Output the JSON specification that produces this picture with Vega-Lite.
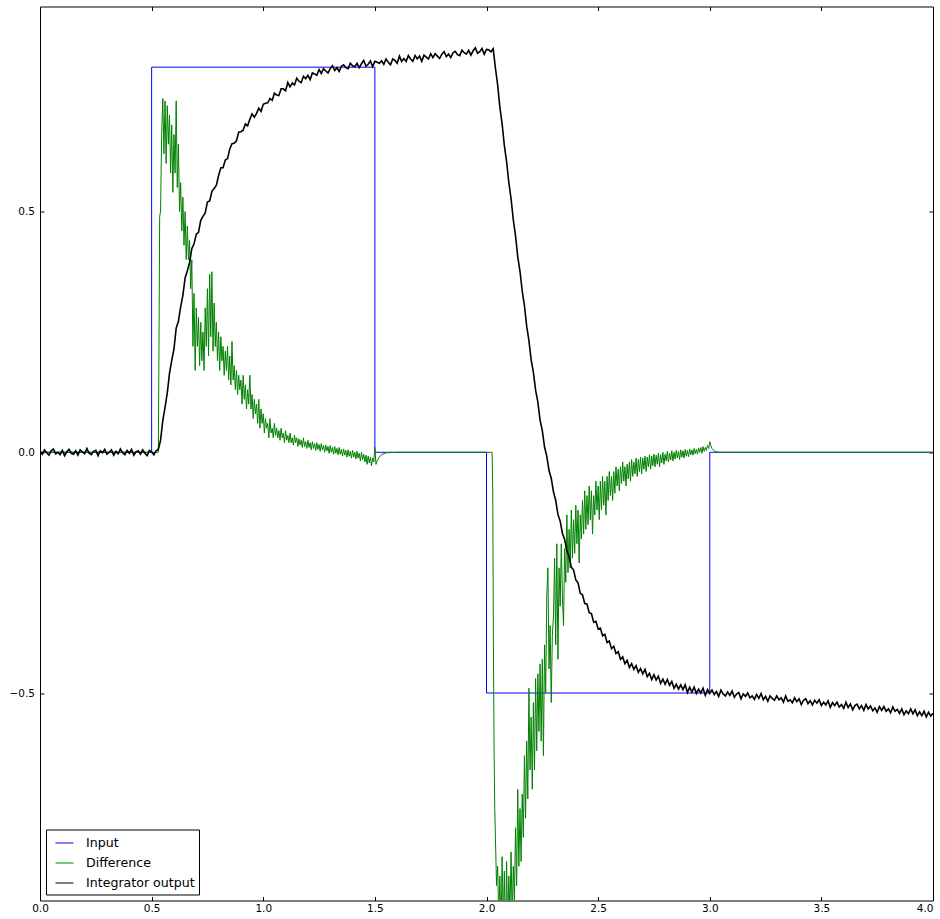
{
  "$schema": "https://vega.github.io/schema/vega-lite/v6.json",
  "width": 893,
  "height": 894,
  "autosize": {"type": "none"},
  "padding": {"left": 40, "top": 6.5, "right": 7, "bottom": 18.5},
  "background": "white",
  "config": {
    "font": "DejaVu Sans",
    "view": {"stroke": "#000", "strokeWidth": 1},
    "axis": {"domain": false, "grid": false, "labelFont": "DejaVu Sans", "labelFontSize": 10.5, "labelColor": "#000", "tickColor": "#000", "tickSize": -4, "tickWidth": 1, "title": null},
    "legend": {"orient": "bottom-left", "offset": 6, "title": null, "strokeColor": "#000", "fillColor": "#fff", "padding": 4, "cornerRadius": 0, "symbolType": "stroke", "symbolSize": 324, "symbolStrokeWidth": 1, "labelFont": "DejaVu Sans", "labelFontSize": 12.6, "labelColor": "#000", "rowPadding": 3, "labelOffset": 12, "symbolOffset": 5}
  },
  "datasets": {
    "input": [
      {"t": 0, "v": 0}, {"t": 0.5, "v": 0}, {"t": 0.5, "v": 0.8}, {"t": 1.5, "v": 0.8}, {"t": 1.5, "v": 0},
      {"t": 2, "v": 0}, {"t": 2, "v": -0.5}, {"t": 3, "v": -0.5}, {"t": 3, "v": 0}, {"t": 4, "v": 0}
    ],
    "diff": [
      {"t":0,"v":0},{"t":0.53,"v":0},{"t":0.533,"v":0.22},{"t":0.536,"v":0.49},{"t":0.54,"v":0.5},{"t":0.545,"v":0.66},{"t":0.55,"v":0.735},{"t":0.555,"v":0.62},{"t":0.56,"v":0.73},{"t":0.565,"v":0.6},{"t":0.57,"v":0.72},{"t":0.575,"v":0.64},{"t":0.58,"v":0.7},{"t":0.585,"v":0.58},{"t":0.59,"v":0.68},{"t":0.595,"v":0.54},{"t":0.6,"v":0.66},{"t":0.605,"v":0.58},{"t":0.61,"v":0.73},{"t":0.615,"v":0.55},{"t":0.62,"v":0.64},{"t":0.625,"v":0.5},{"t":0.63,"v":0.56},{"t":0.635,"v":0.46},{"t":0.64,"v":0.53},{"t":0.645,"v":0.43},{"t":0.65,"v":0.5},{"t":0.655,"v":0.4},{"t":0.66,"v":0.47},{"t":0.665,"v":0.4},{"t":0.67,"v":0.44},{"t":0.675,"v":0.34},{"t":0.68,"v":0.4},{"t":0.685,"v":0.22},{"t":0.69,"v":0.33},{"t":0.695,"v":0.17},{"t":0.7,"v":0.3},{"t":0.705,"v":0.22},{"t":0.71,"v":0.28},{"t":0.715,"v":0.18},{"t":0.72,"v":0.27},{"t":0.725,"v":0.19},{"t":0.73,"v":0.25},{"t":0.735,"v":0.17},{"t":0.74,"v":0.3},{"t":0.745,"v":0.22},{"t":0.75,"v":0.34},{"t":0.755,"v":0.2},{"t":0.76,"v":0.37},{"t":0.765,"v":0.24},{"t":0.77,"v":0.375},{"t":0.775,"v":0.21},{"t":0.78,"v":0.31},{"t":0.785,"v":0.22},{"t":0.79,"v":0.27},{"t":0.795,"v":0.19},{"t":0.8,"v":0.25},{"t":0.805,"v":0.17},{"t":0.81,"v":0.24},{"t":0.815,"v":0.19},{"t":0.82,"v":0.22},{"t":0.825,"v":0.16},{"t":0.83,"v":0.21},{"t":0.835,"v":0.17},{"t":0.84,"v":0.22},{"t":0.845,"v":0.15},{"t":0.85,"v":0.2},{"t":0.855,"v":0.14},{"t":0.86,"v":0.23},{"t":0.865,"v":0.15},{"t":0.87,"v":0.18},{"t":0.875,"v":0.13},{"t":0.88,"v":0.17},{"t":0.885,"v":0.12},{"t":0.89,"v":0.16},{"t":0.895,"v":0.13},{"t":0.9,"v":0.15},{"t":0.905,"v":0.1},{"t":0.91,"v":0.16},{"t":0.915,"v":0.11},{"t":0.92,"v":0.14},{"t":0.925,"v":0.09},{"t":0.93,"v":0.13},{"t":0.935,"v":0.1},{"t":0.94,"v":0.16},{"t":0.945,"v":0.09},{"t":0.95,"v":0.12},{"t":0.955,"v":0.07},{"t":0.96,"v":0.11},{"t":0.965,"v":0.08},{"t":0.97,"v":0.1},{"t":0.975,"v":0.06},{"t":0.98,"v":0.11},{"t":0.985,"v":0.05},{"t":0.99,"v":0.09},{"t":0.995,"v":0.06},{"t":1,"v":0.08},{"t":1.005,"v":0.04},{"t":1.01,"v":0.07},{"t":1.015,"v":0.05},{"t":1.02,"v":0.06},{"t":1.025,"v":0.03},{"t":1.03,"v":0.07},{"t":1.035,"v":0.04},{"t":1.04,"v":0.05},{"t":1.045,"v":0.03},{"t":1.05,"v":0.06},{"t":1.055,"v":0.035},{"t":1.06,"v":0.05},{"t":1.065,"v":0.03},{"t":1.07,"v":0.045},{"t":1.075,"v":0.025},{"t":1.08,"v":0.05},{"t":1.085,"v":0.03},{"t":1.09,"v":0.04},{"t":1.095,"v":0.02},{"t":1.1,"v":0.045},{"t":1.105,"v":0.025},{"t":1.11,"v":0.035},{"t":1.115,"v":0.02},{"t":1.12,"v":0.04},{"t":1.125,"v":0.02},{"t":1.13,"v":0.03},{"t":1.135,"v":0.015},{"t":1.14,"v":0.035},{"t":1.145,"v":0.02},{"t":1.15,"v":0.03},{"t":1.155,"v":0.012},{"t":1.16,"v":0.028},{"t":1.165,"v":0.015},{"t":1.17,"v":0.025},{"t":1.175,"v":0.01},{"t":1.18,"v":0.03},{"t":1.185,"v":0.012},{"t":1.19,"v":0.022},{"t":1.195,"v":0.008},{"t":1.2,"v":0.025},{"t":1.205,"v":0.01},{"t":1.21,"v":0.02},{"t":1.215,"v":0.005},{"t":1.22,"v":0.022},{"t":1.225,"v":0.008},{"t":1.23,"v":0.018},{"t":1.235,"v":0.004},{"t":1.24,"v":0.02},{"t":1.245,"v":0.006},{"t":1.25,"v":0.016},{"t":1.255,"v":0.002},{"t":1.26,"v":0.018},{"t":1.265,"v":0.005},{"t":1.27,"v":0.014},{"t":1.275,"v":0},{"t":1.28,"v":0.015},{"t":1.285,"v":0.003},{"t":1.29,"v":0.012},{"t":1.295,"v":-0.002},{"t":1.3,"v":0.014},{"t":1.305,"v":0},{"t":1.31,"v":0.01},{"t":1.315,"v":-0.004},{"t":1.32,"v":0.012},{"t":1.325,"v":-0.002},{"t":1.33,"v":0.008},{"t":1.335,"v":-0.005},{"t":1.34,"v":0.01},{"t":1.345,"v":-0.004},{"t":1.35,"v":0.006},{"t":1.355,"v":-0.008},{"t":1.36,"v":0.007},{"t":1.365,"v":-0.006},{"t":1.37,"v":0.004},{"t":1.375,"v":-0.01},{"t":1.38,"v":0.005},{"t":1.385,"v":-0.008},{"t":1.39,"v":0.002},{"t":1.395,"v":-0.012},{"t":1.4,"v":0.004},{"t":1.405,"v":-0.01},{"t":1.41,"v":0},{"t":1.415,"v":-0.014},{"t":1.42,"v":0.002},{"t":1.425,"v":-0.012},{"t":1.43,"v":-0.002},{"t":1.435,"v":-0.018},{"t":1.44,"v":0},{"t":1.445,"v":-0.015},{"t":1.45,"v":-0.004},{"t":1.455,"v":-0.02},{"t":1.46,"v":-0.006},{"t":1.465,"v":-0.025},{"t":1.47,"v":-0.008},{"t":1.475,"v":-0.022},{"t":1.48,"v":-0.01},{"t":1.485,"v":-0.028},{"t":1.49,"v":-0.012},{"t":1.495,"v":-0.02},{"t":1.5,"v":0.01},{"t":1.505,"v":-0.025},{"t":1.51,"v":-0.018},{"t":1.52,"v":-0.01},{"t":1.53,"v":-0.005},{"t":1.55,"v":-0.001},{"t":1.6,"v":0},{"t":2.025,"v":0},
      {"t":2.028,"v":-0.08},{"t":2.031,"v":-0.4},{"t":2.034,"v":-0.62},{"t":2.037,"v":-0.74},{"t":2.04,"v":-0.8},{"t":2.045,"v":-0.9},{"t":2.05,"v":-0.86},{"t":2.055,"v":-0.97},{"t":2.06,"v":-0.88},{"t":2.065,"v":-1},{"t":2.07,"v":-0.84},{"t":2.075,"v":-0.98},{"t":2.08,"v":-0.87},{"t":2.085,"v":-1.02},{"t":2.09,"v":-0.85},{"t":2.095,"v":-0.99},{"t":2.1,"v":-0.88},{"t":2.105,"v":-0.96},{"t":2.11,"v":-0.83},{"t":2.115,"v":-0.97},{"t":2.12,"v":-0.86},{"t":2.125,"v":-0.93},{"t":2.13,"v":-0.78},{"t":2.135,"v":-0.9},{"t":2.14,"v":-0.7},{"t":2.145,"v":-0.86},{"t":2.15,"v":-0.74},{"t":2.155,"v":-0.85},{"t":2.16,"v":-0.71},{"t":2.165,"v":-0.8},{"t":2.17,"v":-0.63},{"t":2.175,"v":-0.76},{"t":2.18,"v":-0.6},{"t":2.185,"v":-0.72},{"t":2.19,"v":-0.49},{"t":2.195,"v":-0.66},{"t":2.2,"v":-0.55},{"t":2.205,"v":-0.7},{"t":2.21,"v":-0.52},{"t":2.215,"v":-0.66},{"t":2.22,"v":-0.47},{"t":2.225,"v":-0.62},{"t":2.23,"v":-0.46},{"t":2.235,"v":-0.58},{"t":2.24,"v":-0.44},{"t":2.245,"v":-0.6},{"t":2.25,"v":-0.43},{"t":2.255,"v":-0.63},{"t":2.26,"v":-0.4},{"t":2.265,"v":-0.5},{"t":2.27,"v":-0.3},{"t":2.275,"v":-0.24},{"t":2.28,"v":-0.45},{"t":2.285,"v":-0.36},{"t":2.29,"v":-0.52},{"t":2.295,"v":-0.38},{"t":2.3,"v":-0.34},{"t":2.305,"v":-0.22},{"t":2.31,"v":-0.4},{"t":2.315,"v":-0.19},{"t":2.32,"v":-0.43},{"t":2.325,"v":-0.24},{"t":2.33,"v":-0.32},{"t":2.335,"v":-0.19},{"t":2.34,"v":-0.3},{"t":2.345,"v":-0.36},{"t":2.35,"v":-0.2},{"t":2.355,"v":-0.27},{"t":2.36,"v":-0.13},{"t":2.365,"v":-0.25},{"t":2.37,"v":-0.16},{"t":2.375,"v":-0.24},{"t":2.38,"v":-0.12},{"t":2.385,"v":-0.22},{"t":2.39,"v":-0.14},{"t":2.395,"v":-0.21},{"t":2.4,"v":-0.11},{"t":2.405,"v":-0.19},{"t":2.41,"v":-0.12},{"t":2.415,"v":-0.23},{"t":2.42,"v":-0.13},{"t":2.425,"v":-0.18},{"t":2.43,"v":-0.1},{"t":2.435,"v":-0.17},{"t":2.44,"v":-0.08},{"t":2.445,"v":-0.16},{"t":2.45,"v":-0.09},{"t":2.455,"v":-0.15},{"t":2.46,"v":-0.07},{"t":2.465,"v":-0.14},{"t":2.47,"v":-0.08},{"t":2.475,"v":-0.17},{"t":2.48,"v":-0.09},{"t":2.485,"v":-0.13},{"t":2.49,"v":-0.06},{"t":2.495,"v":-0.12},{"t":2.5,"v":-0.07},{"t":2.505,"v":-0.14},{"t":2.51,"v":-0.06},{"t":2.515,"v":-0.12},{"t":2.52,"v":-0.05},{"t":2.525,"v":-0.11},{"t":2.53,"v":-0.06},{"t":2.535,"v":-0.13},{"t":2.54,"v":-0.05},{"t":2.545,"v":-0.1},{"t":2.55,"v":-0.04},{"t":2.555,"v":-0.09},{"t":2.56,"v":-0.05},{"t":2.565,"v":-0.1},{"t":2.57,"v":-0.04},{"t":2.575,"v":-0.085},{"t":2.58,"v":-0.03},{"t":2.585,"v":-0.07},{"t":2.59,"v":-0.035},{"t":2.595,"v":-0.08},{"t":2.6,"v":-0.03},{"t":2.605,"v":-0.065},{"t":2.61,"v":-0.02},{"t":2.615,"v":-0.06},{"t":2.62,"v":-0.03},{"t":2.625,"v":-0.07},{"t":2.63,"v":-0.025},{"t":2.635,"v":-0.055},{"t":2.64,"v":-0.02},{"t":2.645,"v":-0.06},{"t":2.65,"v":-0.015},{"t":2.655,"v":-0.05},{"t":2.66,"v":-0.02},{"t":2.665,"v":-0.045},{"t":2.67,"v":-0.012},{"t":2.675,"v":-0.05},{"t":2.68,"v":-0.015},{"t":2.685,"v":-0.04},{"t":2.69,"v":-0.01},{"t":2.695,"v":-0.045},{"t":2.7,"v":-0.012},{"t":2.705,"v":-0.035},{"t":2.71,"v":-0.008},{"t":2.715,"v":-0.04},{"t":2.72,"v":-0.01},{"t":2.725,"v":-0.03},{"t":2.73,"v":-0.005},{"t":2.735,"v":-0.035},{"t":2.74,"v":-0.008},{"t":2.745,"v":-0.028},{"t":2.75,"v":-0.004},{"t":2.755,"v":-0.03},{"t":2.76,"v":-0.006},{"t":2.765,"v":-0.025},{"t":2.77,"v":-0.002},{"t":2.775,"v":-0.03},{"t":2.78,"v":-0.005},{"t":2.785,"v":-0.022},{"t":2.79,"v":0},{"t":2.795,"v":-0.025},{"t":2.8,"v":-0.004},{"t":2.805,"v":-0.018},{"t":2.81,"v":0.002},{"t":2.815,"v":-0.02},{"t":2.82,"v":-0.002},{"t":2.825,"v":-0.016},{"t":2.83,"v":0.003},{"t":2.835,"v":-0.018},{"t":2.84,"v":0},{"t":2.845,"v":-0.014},{"t":2.85,"v":0.004},{"t":2.855,"v":-0.012},{"t":2.86,"v":0.002},{"t":2.865,"v":-0.015},{"t":2.87,"v":0.005},{"t":2.875,"v":-0.01},{"t":2.88,"v":0.003},{"t":2.885,"v":-0.012},{"t":2.89,"v":0.006},{"t":2.895,"v":-0.008},{"t":2.9,"v":0.004},{"t":2.905,"v":-0.009},{"t":2.91,"v":0.007},{"t":2.915,"v":-0.005},{"t":2.92,"v":0.005},{"t":2.925,"v":-0.006},{"t":2.93,"v":0.008},{"t":2.935,"v":-0.003},{"t":2.94,"v":0.006},{"t":2.945,"v":-0.004},{"t":2.95,"v":0.009},{"t":2.955,"v":0},{"t":2.96,"v":0.01},{"t":2.965,"v":-0.002},{"t":2.97,"v":0.012},{"t":2.975,"v":0.002},{"t":2.98,"v":0.01},{"t":2.985,"v":0.004},{"t":2.99,"v":0.014},{"t":2.995,"v":0.008},{"t":3,"v":0.022},{"t":3.005,"v":0.014},{"t":3.01,"v":0.008},{"t":3.02,"v":0.003},{"t":3.03,"v":0.001},{"t":3.05,"v":0},{"t":4,"v":0}
    ],
    "out": [
      {"t":0,"v":0.002},{"t":0.01,"v":-0.004},{"t":0.02,"v":0.005},{"t":0.03,"v":-0.001},{"t":0.04,"v":-0.006},{"t":0.05,"v":0.003},{"t":0.06,"v":0.007},{"t":0.07,"v":-0.003},{"t":0.08,"v":0},{"t":0.09,"v":-0.005},{"t":0.1,"v":0.004},{"t":0.11,"v":-0.007},{"t":0.12,"v":0.001},{"t":0.13,"v":0.006},{"t":0.14,"v":-0.002},{"t":0.15,"v":-0.004},{"t":0.16,"v":0.003},{"t":0.17,"v":-0.006},{"t":0.18,"v":0.005},{"t":0.19,"v":0.001},{"t":0.2,"v":-0.003},{"t":0.21,"v":0.008},{"t":0.22,"v":-0.002},{"t":0.23,"v":-0.005},{"t":0.24,"v":0.002},{"t":0.25,"v":0.004},{"t":0.26,"v":-0.007},{"t":0.27,"v":0.003},{"t":0.28,"v":-0.001},{"t":0.29,"v":0.006},{"t":0.3,"v":-0.004},{"t":0.31,"v":0},{"t":0.32,"v":0.005},{"t":0.33,"v":-0.006},{"t":0.34,"v":0.002},{"t":0.35,"v":-0.003},{"t":0.36,"v":0.007},{"t":0.37,"v":-0.001},{"t":0.38,"v":-0.005},{"t":0.39,"v":0.004},{"t":0.4,"v":-0.002},{"t":0.41,"v":0.006},{"t":0.42,"v":-0.006},{"t":0.43,"v":0.001},{"t":0.44,"v":0.003},{"t":0.45,"v":-0.004},{"t":0.46,"v":0.005},{"t":0.47,"v":-0.002},{"t":0.48,"v":-0.007},{"t":0.49,"v":0.004},{"t":0.5,"v":0.001},{"t":0.51,"v":-0.005},{"t":0.52,"v":0.003},
      {"t":0.53,"v":0.006},{"t":0.54,"v":0.025},{"t":0.55,"v":0.066},{"t":0.56,"v":0.093},{"t":0.57,"v":0.123},{"t":0.58,"v":0.164},{"t":0.59,"v":0.191},{"t":0.6,"v":0.214},{"t":0.61,"v":0.258},{"t":0.62,"v":0.272},{"t":0.63,"v":0.302},{"t":0.64,"v":0.326},{"t":0.65,"v":0.362},{"t":0.66,"v":0.377},{"t":0.67,"v":0.394},{"t":0.68,"v":0.423},{"t":0.69,"v":0.433},{"t":0.7,"v":0.453},{"t":0.71,"v":0.457},{"t":0.72,"v":0.482},{"t":0.73,"v":0.49},{"t":0.74,"v":0.497},{"t":0.75,"v":0.52},{"t":0.76,"v":0.522},{"t":0.77,"v":0.542},{"t":0.78,"v":0.548},{"t":0.79,"v":0.555},{"t":0.8,"v":0.575},{"t":0.81,"v":0.591},{"t":0.82,"v":0.591},{"t":0.83,"v":0.607},{"t":0.84,"v":0.61},{"t":0.85,"v":0.63},{"t":0.86,"v":0.641},{"t":0.87,"v":0.642},{"t":0.88,"v":0.647},{"t":0.89,"v":0.665},{"t":0.9,"v":0.666},{"t":0.91,"v":0.669},{"t":0.92,"v":0.682},{"t":0.93,"v":0.678},{"t":0.94,"v":0.692},{"t":0.95,"v":0.703},{"t":0.96,"v":0.696},{"t":0.97,"v":0.704},{"t":0.98,"v":0.715},{"t":0.99,"v":0.708},{"t":1,"v":0.723},
      {"t":1.01,"v":0.725},{"t":1.02,"v":0.726},{"t":1.03,"v":0.735},{"t":1.04,"v":0.731},{"t":1.05,"v":0.746},{"t":1.06,"v":0.742},{"t":1.07,"v":0.741},{"t":1.08,"v":0.755},{"t":1.09,"v":0.755},{"t":1.1,"v":0.751},{"t":1.11,"v":0.768},{"t":1.12,"v":0.759},{"t":1.13,"v":0.767},{"t":1.14,"v":0.763},{"t":1.15,"v":0.777},{"t":1.16,"v":0.771},{"t":1.17,"v":0.768},{"t":1.18,"v":0.781},{"t":1.19,"v":0.776},{"t":1.2,"v":0.783},{"t":1.21,"v":0.774},{"t":1.22,"v":0.788},{"t":1.23,"v":0.786},{"t":1.24,"v":0.783},{"t":1.25,"v":0.795},{"t":1.26,"v":0.787},{"t":1.27,"v":0.797},{"t":1.28,"v":0.792},{"t":1.29,"v":0.788},{"t":1.3,"v":0.797},{"t":1.31,"v":0.803},{"t":1.32,"v":0.793},{"t":1.33,"v":0.799},{"t":1.34,"v":0.791},{"t":1.35,"v":0.802},{"t":1.36,"v":0.805},{"t":1.37,"v":0.799},{"t":1.38,"v":0.797},{"t":1.39,"v":0.808},{"t":1.4,"v":0.803},{"t":1.41,"v":0.801},{"t":1.42,"v":0.808},{"t":1.43,"v":0.799},{"t":1.44,"v":0.807},{"t":1.45,"v":0.814},{"t":1.46,"v":0.802},{"t":1.47,"v":0.806},{"t":1.48,"v":0.813},{"t":1.49,"v":0.801},{"t":1.5,"v":0.812},
      {"t":1.51,"v":0.81},{"t":1.52,"v":0.808},{"t":1.53,"v":0.813},{"t":1.54,"v":0.806},{"t":1.55,"v":0.817},{"t":1.56,"v":0.81},{"t":1.57,"v":0.805},{"t":1.58,"v":0.817},{"t":1.59,"v":0.814},{"t":1.6,"v":0.808},{"t":1.61,"v":0.823},{"t":1.62,"v":0.812},{"t":1.63,"v":0.818},{"t":1.64,"v":0.812},{"t":1.65,"v":0.824},{"t":1.66,"v":0.817},{"t":1.67,"v":0.812},{"t":1.68,"v":0.824},{"t":1.69,"v":0.817},{"t":1.7,"v":0.823},{"t":1.71,"v":0.812},{"t":1.72,"v":0.825},{"t":1.73,"v":0.821},{"t":1.74,"v":0.817},{"t":1.75,"v":0.828},{"t":1.76,"v":0.82},{"t":1.77,"v":0.828},{"t":1.78,"v":0.823},{"t":1.79,"v":0.818},{"t":1.8,"v":0.827},{"t":1.81,"v":0.832},{"t":1.82,"v":0.822},{"t":1.83,"v":0.827},{"t":1.84,"v":0.82},{"t":1.85,"v":0.83},{"t":1.86,"v":0.833},{"t":1.87,"v":0.826},{"t":1.88,"v":0.824},{"t":1.89,"v":0.835},{"t":1.9,"v":0.83},{"t":1.91,"v":0.827},{"t":1.92,"v":0.835},{"t":1.93,"v":0.825},{"t":1.94,"v":0.834},{"t":1.95,"v":0.84},{"t":1.96,"v":0.829},{"t":1.97,"v":0.832},{"t":1.98,"v":0.839},{"t":1.99,"v":0.827},{"t":2,"v":0.837},{"t":2.01,"v":0.836},{"t":2.02,"v":0.832},{"t":2.03,"v":0.838},
      {"t":2.04,"v":0.798},{"t":2.05,"v":0.763},{"t":2.06,"v":0.716},{"t":2.07,"v":0.682},{"t":2.08,"v":0.637},{"t":2.09,"v":0.604},{"t":2.1,"v":0.56},{"t":2.11,"v":0.527},{"t":2.12,"v":0.483},{"t":2.13,"v":0.45},{"t":2.14,"v":0.406},{"t":2.15,"v":0.376},{"t":2.16,"v":0.335},{"t":2.17,"v":0.304},{"t":2.18,"v":0.262},{"t":2.19,"v":0.232},{"t":2.2,"v":0.192},{"t":2.21,"v":0.166},{"t":2.22,"v":0.129},{"t":2.23,"v":0.104},{"t":2.24,"v":0.067},{"t":2.25,"v":0.045},{"t":2.26,"v":0.011},{"t":2.27,"v":-0.008},{"t":2.28,"v":-0.038},{"t":2.29,"v":-0.054},{"t":2.3,"v":-0.082},{"t":2.31,"v":-0.1},{"t":2.32,"v":-0.129},{"t":2.33,"v":-0.143},{"t":2.34,"v":-0.168},{"t":2.35,"v":-0.181},{"t":2.36,"v":-0.205},{"t":2.37,"v":-0.216},{"t":2.38,"v":-0.239},{"t":2.39,"v":-0.244},{"t":2.4,"v":-0.265},{"t":2.41,"v":-0.271},{"t":2.42,"v":-0.293},{"t":2.43,"v":-0.296},{"t":2.44,"v":-0.314},{"t":2.45,"v":-0.315},{"t":2.46,"v":-0.333},{"t":2.47,"v":-0.335},{"t":2.48,"v":-0.353},{"t":2.49,"v":-0.351},{"t":2.5,"v":-0.367},
      {"t":2.51,"v":-0.365},{"t":2.52,"v":-0.381},{"t":2.53,"v":-0.378},{"t":2.54,"v":-0.395},{"t":2.55,"v":-0.392},{"t":2.56,"v":-0.408},{"t":2.57,"v":-0.403},{"t":2.58,"v":-0.418},{"t":2.59,"v":-0.414},{"t":2.6,"v":-0.43},{"t":2.61,"v":-0.425},{"t":2.62,"v":-0.439},{"t":2.63,"v":-0.432},{"t":2.64,"v":-0.447},{"t":2.65,"v":-0.439},{"t":2.66,"v":-0.451},{"t":2.67,"v":-0.443},{"t":2.68,"v":-0.457},{"t":2.69,"v":-0.449},{"t":2.7,"v":-0.46},{"t":2.71,"v":-0.451},{"t":2.72,"v":-0.466},{"t":2.73,"v":-0.459},{"t":2.74,"v":-0.472},{"t":2.75,"v":-0.462},{"t":2.76,"v":-0.473},{"t":2.77,"v":-0.465},{"t":2.78,"v":-0.48},{"t":2.79,"v":-0.471},{"t":2.8,"v":-0.482},{"t":2.81,"v":-0.472},{"t":2.82,"v":-0.484},{"t":2.83,"v":-0.476},{"t":2.84,"v":-0.49},{"t":2.85,"v":-0.482},{"t":2.86,"v":-0.492},{"t":2.87,"v":-0.483},{"t":2.88,"v":-0.493},{"t":2.89,"v":-0.483},{"t":2.9,"v":-0.499},{"t":2.91,"v":-0.488},{"t":2.92,"v":-0.498},{"t":2.93,"v":-0.488},{"t":2.94,"v":-0.501},{"t":2.95,"v":-0.492},{"t":2.96,"v":-0.5},{"t":2.97,"v":-0.49},{"t":2.98,"v":-0.505},{"t":2.99,"v":-0.493},{"t":3,"v":-0.501},
      {"t":3.01,"v":-0.494},{"t":3.02,"v":-0.503},{"t":3.03,"v":-0.497},{"t":3.04,"v":-0.507},{"t":3.05,"v":-0.494},{"t":3.06,"v":-0.502},{"t":3.07,"v":-0.506},{"t":3.08,"v":-0.498},{"t":3.09,"v":-0.505},{"t":3.1,"v":-0.496},{"t":3.11,"v":-0.509},{"t":3.12,"v":-0.502},{"t":3.13,"v":-0.499},{"t":3.14,"v":-0.512},{"t":3.15,"v":-0.502},{"t":3.16,"v":-0.507},{"t":3.17,"v":-0.5},{"t":3.18,"v":-0.51},{"t":3.19,"v":-0.506},{"t":3.2,"v":-0.513},{"t":3.21,"v":-0.503},{"t":3.22,"v":-0.511},{"t":3.23,"v":-0.501},{"t":3.24,"v":-0.514},{"t":3.25,"v":-0.507},{"t":3.26,"v":-0.517},{"t":3.27,"v":-0.506},{"t":3.28,"v":-0.511},{"t":3.29,"v":-0.515},{"t":3.3,"v":-0.506},{"t":3.31,"v":-0.514},{"t":3.32,"v":-0.51},{"t":3.33,"v":-0.519},{"t":3.34,"v":-0.506},{"t":3.35,"v":-0.517},{"t":3.36,"v":-0.514},{"t":3.37,"v":-0.52},{"t":3.38,"v":-0.51},{"t":3.39,"v":-0.518},{"t":3.4,"v":-0.512},{"t":3.41,"v":-0.524},{"t":3.42,"v":-0.515},{"t":3.43,"v":-0.512},{"t":3.44,"v":-0.522},{"t":3.45,"v":-0.516},{"t":3.46,"v":-0.525},{"t":3.47,"v":-0.515},{"t":3.48,"v":-0.521},{"t":3.49,"v":-0.514},{"t":3.5,"v":-0.526},
      {"t":3.51,"v":-0.519},{"t":3.52,"v":-0.525},{"t":3.53,"v":-0.516},{"t":3.54,"v":-0.53},{"t":3.55,"v":-0.52},{"t":3.56,"v":-0.526},{"t":3.57,"v":-0.519},{"t":3.58,"v":-0.529},{"t":3.59,"v":-0.524},{"t":3.6,"v":-0.532},{"t":3.61,"v":-0.519},{"t":3.62,"v":-0.53},{"t":3.63,"v":-0.523},{"t":3.64,"v":-0.535},{"t":3.65,"v":-0.526},{"t":3.66,"v":-0.523},{"t":3.67,"v":-0.533},{"t":3.68,"v":-0.526},{"t":3.69,"v":-0.536},{"t":3.7,"v":-0.524},{"t":3.71,"v":-0.533},{"t":3.72,"v":-0.527},{"t":3.73,"v":-0.537},{"t":3.74,"v":-0.531},{"t":3.75,"v":-0.54},{"t":3.76,"v":-0.528},{"t":3.77,"v":-0.536},{"t":3.78,"v":-0.528},{"t":3.79,"v":-0.538},{"t":3.8,"v":-0.533},{"t":3.81,"v":-0.541},{"t":3.82,"v":-0.529},{"t":3.83,"v":-0.538},{"t":3.84,"v":-0.534},{"t":3.85,"v":-0.542},{"t":3.86,"v":-0.533},{"t":3.87,"v":-0.545},{"t":3.88,"v":-0.537},{"t":3.89,"v":-0.543},{"t":3.9,"v":-0.533},{"t":3.91,"v":-0.543},{"t":3.92,"v":-0.535},{"t":3.93,"v":-0.547},{"t":3.94,"v":-0.539},{"t":3.95,"v":-0.547},{"t":3.96,"v":-0.538},{"t":3.97,"v":-0.55},{"t":3.98,"v":-0.54},{"t":3.99,"v":-0.548},{"t":4,"v":-0.542}
    ]
  },
  "layer": [
    {
      "data": {"name": "input"},
      "mark": {"type": "line", "clip": true, "strokeWidth": 1},
      "encoding": {
        "x": {"field": "t", "type": "quantitative", "scale": {"domain": [0, 4], "nice": false, "zero": false},
              "axis": {"orient": "bottom", "values": [0, 0.5, 1, 1.5, 2, 2.5, 3, 3.5, 4], "format": ".1f", "labelPadding": 7, "labelFlush": false,
                       "labelAlign": {"condition": {"test": "datum.value == 4", "value": "right"}, "value": "center"}}},
        "y": {"field": "v", "type": "quantitative", "scale": {"domain": [-0.931, 0.926], "nice": false, "zero": false},
              "axis": {"orient": "left", "values": [-0.5, 0, 0.5], "format": ".1f", "labelPadding": 9.5}},
        "color": {"datum": "Input", "type": "nominal",
                  "scale": {"domain": ["Input", "Difference", "Integrator output"], "range": ["#0000ff", "#008000", "#000000"]},
                  "legend": {"title": null}}
      }
    },
    {
      "data": {"name": "diff"},
      "mark": {"type": "line", "clip": true, "strokeWidth": 1},
      "encoding": {
        "x": {"field": "t", "type": "quantitative", "axis": {"orient": "top", "labels": false, "values": [0, 0.5, 1, 1.5, 2, 2.5, 3, 3.5, 4]}},
        "y": {"field": "v", "type": "quantitative", "axis": {"orient": "right", "labels": false, "values": [-0.5, 0, 0.5]}},
        "color": {"datum": "Difference", "type": "nominal"}
      }
    },
    {
      "data": {"name": "out"},
      "mark": {"type": "line", "clip": true, "strokeWidth": 1.6},
      "encoding": {
        "x": {"field": "t", "type": "quantitative", "axis": null},
        "y": {"field": "v", "type": "quantitative", "axis": null},
        "color": {"datum": "Integrator output", "type": "nominal"}
      }
    }
  ],
  "resolve": {"axis": {"x": "independent", "y": "independent"}}
}
